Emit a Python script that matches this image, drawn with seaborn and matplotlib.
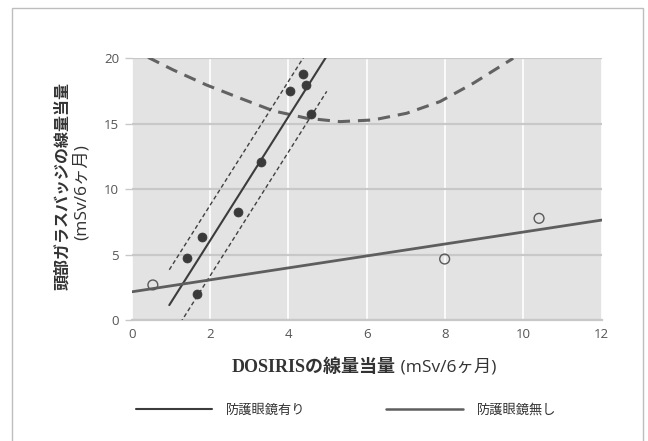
import numpy as np
import pandas as pd
import matplotlib
matplotlib.use("Agg")
import matplotlib.pyplot as plt
import seaborn as sns
from matplotlib.lines import Line2D
from matplotlib.patches import Rectangle

# ---------------- data ----------------
with_x = [1.40, 1.79, 1.66, 2.71, 3.29, 4.04, 4.38, 4.45, 4.58]
with_y = [4.71, 6.32, 1.99, 8.25, 12.08, 17.53, 18.78, 17.94, 15.75]
without_x = [0.54, 7.99, 10.40]
without_y = [2.68, 4.66, 7.77]
curve_x = [0.42, 1.06, 1.91, 2.77, 3.62, 4.47, 5.32, 6.17, 7.02, 7.87, 8.72, 9.74]
curve_y = [20.07, 19.11, 17.96, 16.95, 15.98, 15.42, 15.16, 15.29, 15.80, 16.69, 18.09, 20.0]
with_fit_range = [0.96, 4.98]
without_fit_range = [0.0, 12.0]
band_halfwidth = 2.7
x_ticks = [0, 2, 4, 6, 8, 10, 12]
y_ticks = [0, 5, 10, 15, 20]
legend_labels = ["防護眼鏡有り", "防護眼鏡無し"]
x_label_main = "DOSIRISの線量当量"
x_label_unit = "(mSv/6ヶ月)"
y_label_main = "頭部ガラスバッジの線量当量"
y_label_unit = "(mSv/6ヶ月)"

# ---------------- style ----------------
sns.set_style("white")
plt.rcParams["font.family"] = ["Open Sans", "Noto Sans CJK JP", "DejaVu Sans"]

fig = plt.figure(figsize=(6.48, 4.41), dpi=100)
ax = fig.add_axes([131.7 / 648, 1 - 320 / 441, 470 / 648, (320 - 58.3) / 441])
ax.set_facecolor("#e3e3e3")

# fits computed from data
w_slope, w_int = np.polyfit(with_x, with_y, 1)
o_slope, o_int = np.polyfit(without_x, without_y, 1)
wx = np.array(with_fit_range)
ox = np.array(without_fit_range)
fit_w = pd.DataFrame({"x": wx, "y": w_int + w_slope * wx})
fit_o = pd.DataFrame({"x": ox, "y": o_int + o_slope * ox})
band_up = pd.DataFrame({"x": wx, "y": fit_w["y"] + band_halfwidth})
band_lo = pd.DataFrame({"x": wx, "y": fit_w["y"] - band_halfwidth})
curve = pd.DataFrame({"x": curve_x, "y": curve_y})

sns.lineplot(data=curve, x="x", y="y", ax=ax, color="#626262", lw=2.2,
             linestyle=(0, (4, 2.6)), zorder=3)
sns.lineplot(data=band_up, x="x", y="y", ax=ax, color="#404040", lw=1.0,
             linestyle=(0, (3, 2)), zorder=3)
sns.lineplot(data=band_lo, x="x", y="y", ax=ax, color="#404040", lw=1.0,
             linestyle=(0, (3, 2)), zorder=3)
sns.lineplot(data=fit_w, x="x", y="y", ax=ax, color="#3c3c3c", lw=1.5, zorder=4)
sns.lineplot(data=fit_o, x="x", y="y", ax=ax, color="#5e5e5e", lw=2.0, zorder=4)

sns.scatterplot(x=with_x, y=with_y, ax=ax, color="#3a3a3a", s=42,
                edgecolor="#3a3a3a", linewidth=0.5, zorder=5)
sns.scatterplot(x=without_x, y=without_y, ax=ax, color="#e3e3e3", s=50,
                edgecolor="#5a5a5a", linewidth=1.0, zorder=5)
ax.collections[-1].set_facecolor("none")

ax.set_xlim(0, 12)
ax.set_ylim(0, 20)
ax.set_xticks(x_ticks)
ax.set_yticks(y_ticks)
ax.set_xlabel("")
ax.set_ylabel("")
ax.set_axisbelow(True)
ax.xaxis.grid(True, color="white", lw=1.2)
ax.yaxis.grid(True, color="#c8c8c8", lw=1.6)
for s in ["top", "right", "left"]:
    ax.spines[s].set_visible(False)
ax.spines["bottom"].set_color("#c8c8c8")
ax.spines["bottom"].set_linewidth(1.6)
ax.tick_params(axis="x", length=0, pad=6, labelsize=9.5, labelcolor="#555555")
ax.tick_params(axis="y", length=5, width=1, color="#c8c8c8", pad=4,
               labelsize=9.5, labelcolor="#555555", left=True)

# x label: mixed fonts
t1 = fig.text(231.7 / 648, 1 - 367 / 441, x_label_main, ha="left", va="center",
              fontsize=13, fontweight="bold", color="#333333",
              family=["Liberation Serif", "Noto Sans CJK JP"])
ax.annotate(" " + x_label_unit, xy=(1, 0.5), xycoords=t1, ha="left", va="center",
            fontsize=12.5, color="#333333", family=["Open Sans", "Noto Sans CJK JP"],
            annotation_clip=False)

# y label: two lines
fig.text(61.7 / 648, 1 - 186 / 441, y_label_main, rotation=90, ha="center",
         va="center", fontsize=11.5, fontweight="bold", color="#333333",
         family=["Noto Sans CJK JP"])
fig.text(81.7 / 648, 1 - 192 / 441, y_label_unit, rotation=90, ha="center",
         va="center", fontsize=12.5, color="#333333",
         family=["Open Sans", "Noto Sans CJK JP"])

# legend
handles = [Line2D([], [], color="#3c3c3c", lw=1.5),
           Line2D([], [], color="#5e5e5e", lw=1.8)]
leg = fig.legend(handles, legend_labels, loc="center", ncol=2,
                 bbox_to_anchor=(346 / 648, 1 - 410 / 441), frameon=False,
                 handlelength=5.8, handletextpad=1.05, columnspacing=6.1,
                 prop={"family": "Noto Sans CJK JP", "size": 9.5})
for t in leg.get_texts():
    t.set_color("#333333")

# outer frame
fig.patches.append(Rectangle((12 / 648, -0.05), (643 - 12) / 648, 1.05 - 8 / 441,
                             transform=fig.transFigure, fill=False,
                             edgecolor="#bdbdbd", lw=1.0, figure=fig))

fig.savefig("out.png", dpi=100)
